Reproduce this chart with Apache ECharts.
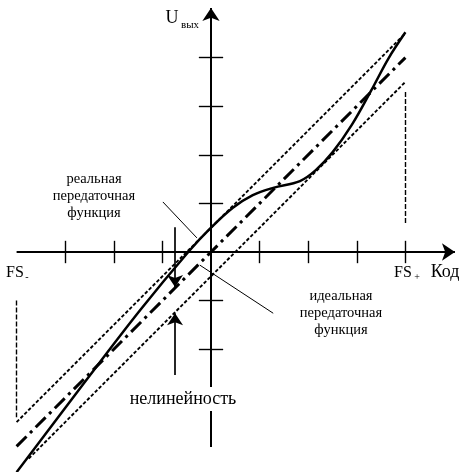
<!DOCTYPE html>
<html>
<head>
<meta charset="utf-8">
<script src="https://cdn.jsdelivr.net/npm/echarts@6/dist/echarts.min.js"></script>
<style>
  html, body { margin: 0; padding: 0; background: #fff; }
  #chart { width: 463px; height: 472px; }
</style>
</head>
<body>
<div id="chart"></div>
<script>
// one unit = one tick step of the axes
const tickPositions = [-3, -2, -1, 1, 2, 3, 4];

// real (nonlinear) transfer function
const realCurve = [
  [-4.0, -4.53], [-2.6, -2.68], [-1.46, -1.2], [-0.45, 0.02], [0, 0.5],
  [0.45, 0.91], [0.86, 1.17], [1.28, 1.32], [1.83, 1.46], [2.15, 1.68],
  [2.5, 2.05], [2.9, 2.62], [3.3, 3.33], [3.65, 3.98], [4.0, 4.52]
];
// ideal transfer function and tolerance bounds
const idealLine = [[-4, -4], [4, 4]];
const upperBound = [[-4, -3.5], [4, 4.5]];
const lowerBound = [[-3.75, -4.25], [4, 3.5]];

// full-scale markers
const fsMarkers = [
  [[4, 3.29], [4, 0.56]],
  [[-4, -1.0], [-4, -3.4]]
];
// leader lines from captions to curves
const leaders = [
  [[-0.99, 1.03], [-0.29, 0.29]],
  [[-0.23, -0.27], [1.28, -1.26]]
];
// nonlinearity arrows
const nonlinArrows = [
  [[-0.74, 0.51], [-0.74, -0.72]],
  [[-0.74, -2.53], [-0.74, -1.26]]
];
const axisX = [[-4, 0], [5.02, 0]];
const axisY = [[0, -4.01], [0, 5.02]];

const realLabel = ['реальная', 'передаточная', 'функция'];
const idealLabel = ['идеальная', 'передаточная', 'функция'];
const nonlinLabel = 'нелинейность';
const xName = 'Код';
const yName = ['U', 'вых'];
const fsMinus = ['FS', '-'];
const fsPlus = ['FS', '+'];

const serif = '"Liberation Serif", "DejaVu Serif", serif';

const xTicks = tickPositions.map(v => ({ coords: [[v, -0.23], [v, 0.23]] }));
const yTicks = tickPositions.map(v => ({ coords: [[-0.25, v], [0.25, v]] }));

const chart = echarts.init(document.getElementById('chart'));

function txt(text, x, y, size, extra) {
  return {
    type: 'text', x: x, y: y, z: 100,
    style: Object.assign({
      text: text, fill: '#000', fontSize: size, fontFamily: serif,
      align: 'center', verticalAlign: 'middle'
    }, extra || {})
  };
}

chart.setOption({
  animation: false,
  backgroundColor: '#fff',
  grid: { left: 0, right: 0, top: 0, bottom: 0 },
  xAxis: { type: 'value', min: -211 / 48.6, max: 252 / 48.6, show: false },
  yAxis: { type: 'value', min: -220 / 48.6, max: 252 / 48.6, show: false },
  series: [
    {
      type: 'lines', coordinateSystem: 'cartesian2d', z: 2,
      symbol: ['none', 'arrow'], symbolSize: [9, 13],
      lineStyle: { color: '#000', width: 2, opacity: 1 },
      data: [{ coords: axisX }, { coords: axisY }]
    },
    {
      type: 'lines', coordinateSystem: 'cartesian2d', z: 2,
      lineStyle: { color: '#000', width: 1.4, opacity: 1 },
      data: xTicks.concat(yTicks)
    },
    {
      type: 'line', data: upperBound, showSymbol: false, z: 3,
      lineStyle: { color: '#000', width: 1.9, type: [3.5, 2] }
    },
    {
      type: 'line', data: lowerBound, showSymbol: false, z: 3,
      lineStyle: { color: '#000', width: 1.9, type: [3.5, 2] }
    },
    {
      type: 'line', data: idealLine, showSymbol: false, z: 4,
      lineStyle: { color: '#000', width: 3, type: [14, 5, 3, 5] }
    },
    {
      type: 'line', data: realCurve, showSymbol: false, smooth: 0.35, z: 5,
      lineStyle: { color: '#000', width: 2.5 }
    },
    {
      type: 'lines', coordinateSystem: 'cartesian2d', z: 3,
      lineStyle: { color: '#000', width: 1.4, type: [5, 2], opacity: 1 },
      data: fsMarkers.map(c => ({ coords: c }))
    },
    {
      type: 'lines', coordinateSystem: 'cartesian2d', z: 3,
      lineStyle: { color: '#000', width: 1, opacity: 1 },
      data: leaders.map(c => ({ coords: c }))
    },
    {
      type: 'lines', coordinateSystem: 'cartesian2d', z: 6,
      symbol: ['none', 'arrow'], symbolSize: [7, 12],
      lineStyle: { color: '#000', width: 1.7, opacity: 1 },
      data: nonlinArrows.map(c => ({ coords: c }))
    }
  ],
  graphic: [
    txt(yName[0], 172, 18, 18),
    txt(yName[1], 190, 25, 11),
    txt(xName, 445, 272, 18),
    txt(fsMinus[0], 15, 273, 16),
    txt(fsMinus[1], 27, 277, 10),
    txt(fsPlus[0], 403, 273, 16),
    txt(fsPlus[1], 417, 277, 10),
    txt(realLabel.join('\n'), 94, 196, 14.5, { lineHeight: 17 }),
    txt(idealLabel.join('\n'), 341, 313, 14.5, { lineHeight: 17 }),
    txt(nonlinLabel, 183, 399, 18, { backgroundColor: '#fff', padding: [3, 2] })
  ]
});
</script>
</body>
</html>
